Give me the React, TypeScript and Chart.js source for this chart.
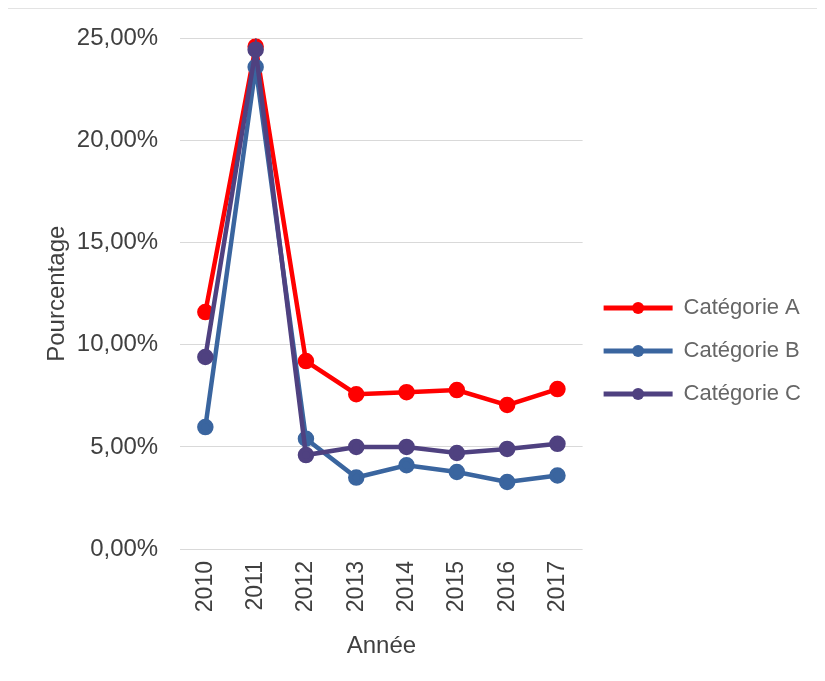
import React, { useEffect, useRef } from "react";
import { Chart, registerables } from "chart.js";

Chart.register(...registerables);

const years = ["2010", "2011", "2012", "2013", "2014", "2015", "2016", "2017"];
const seriesNames = ["Catégorie A", "Catégorie B", "Catégorie C"];
const catA = [11.6, 24.6, 9.2, 7.58, 7.68, 7.78, 7.05, 7.83];
const catB = [5.97, 23.6, 5.4, 3.5, 4.1, 3.77, 3.28, 3.6];
const catC = [9.4, 24.45, 4.6, 5.0, 5.0, 4.7, 4.9, 5.15];
const yTicks = [0, 5, 10, 15, 20, 25];
const colors = ["#ff0000", "#3a659f", "#4f4180"];

const FONT = "'Liberation Sans', Arial, sans-serif";

const legendMarkers = {
  id: "legendMarkers",
  afterDraw(chart: any) {
    const legend = chart.legend;
    if (!legend || !legend.legendHitBoxes) return;
    const ctx = chart.ctx;
    const boxW = legend.options.labels.boxWidth;
    legend.legendHitBoxes.forEach((hb: any, i: number) => {
      const item = legend.legendItems[i];
      ctx.save();
      ctx.fillStyle = item.fillStyle;
      ctx.beginPath();
      ctx.arc(hb.left + boxW / 2, hb.top + hb.height / 2, 6, 0, Math.PI * 2);
      ctx.fill();
      ctx.restore();
    });
  },
};

export default function App() {
  const ref = useRef<HTMLCanvasElement>(null);
  useEffect(() => {
    if (!ref.current) return;
    const datas = [catA, catB, catC];
    const chart = new Chart(ref.current, {
      type: "line",
      data: {
        labels: years,
        datasets: datas.map((d, i) => ({
          label: seriesNames[i],
          data: d,
          borderColor: colors[i],
          backgroundColor: colors[i],
          pointBackgroundColor: colors[i],
          pointBorderColor: colors[i],
          pointRadius: 6,
          borderWidth: 4.5,
          tension: 0,
          order: 2 - i,
        })),
      },
      options: {
        animation: false,
        responsive: true,
        maintainAspectRatio: false,
        layout: { padding: { left: 35, right: 6, top: 5, bottom: 12 } },
        plugins: {
          tooltip: { enabled: false },
          legend: {
            position: "right",
            maxWidth: 300,
            title: { display: true, text: " ", font: { size: 10 }, padding: 7.5 },
            labels: {
              boxWidth: 69,
              boxHeight: 5,
              padding: 21,
              color: "#404040",
              font: { family: FONT, size: 22 },
              sort: (a: any, b: any) => a.datasetIndex - b.datasetIndex,
              generateLabels: (chart: any) =>
                chart.data.datasets.map((ds: any, i: number) => ({
                  text: ds.label,
                  fillStyle: ds.borderColor,
                  strokeStyle: ds.borderColor,
                  lineWidth: 0,
                  datasetIndex: i,
                  hidden: false,
                })),
            },
          },
        },
        scales: {
          x: {
            offset: true,
            grid: { display: false },
            border: { display: false },
            ticks: {
              maxRotation: 90,
              minRotation: 90,
              padding: 4,
              color: "#404040",
              font: { family: FONT, size: 23 },
            },
            title: {
              display: true,
              text: "Année",
              color: "#404040",
              font: { family: FONT, size: 24 },
              padding: { top: 16, bottom: 0 },
            },
          },
          y: {
            min: 0,
            max: 25,
            afterBuildTicks: (axis: any) => {
              axis.ticks = yTicks.map((v) => ({ value: v }));
            },
            afterFit: (scale: any) => {
              scale.width -= 14;
            },
            grid: {
              color: "#d9d9d9",
              lineWidth: 1,
              drawTicks: true,
              tickLength: 7,
              tickColor: "rgba(0,0,0,0)",
            },
            border: { display: false },
            ticks: {
              padding: 15,
              color: "#404040",
              font: { family: FONT, size: 24 },
              callback: (v: any) => Number(v).toFixed(2).replace(".", ",") + "%",
            },
            title: {
              display: true,
              text: "Pourcentage",
              color: "#404040",
              font: { family: FONT, size: 24 },
              padding: { top: 0, bottom: 4 },
            },
          },
        },
      },
      plugins: [legendMarkers],
    });
    return () => chart.destroy();
  }, []);
  return (
    <div style={{ width: 809, height: 665, borderTop: "1px solid #e3e3e3", boxSizing: "border-box", position: "relative" }}>
      <canvas ref={ref} />
    </div>
  );
}
